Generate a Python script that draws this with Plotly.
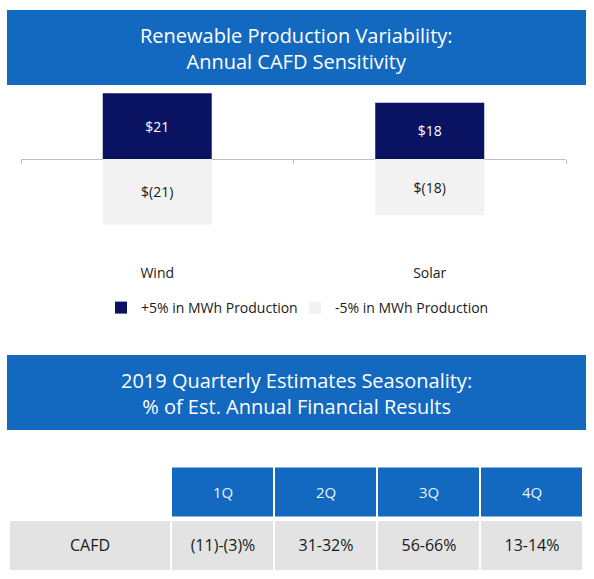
import plotly.graph_objects as go

W, H = 594, 579
FONT = "Segoe UI, Open Sans, sans-serif"

# ---- data ----
categories = ["Wind", "Solar"]
plus_values = [21, 18]
minus_values = [-21, -18]
series_names = ["+5% in MWh Production", "-5% in MWh Production"]

quarters = ["1Q", "2Q", "3Q", "4Q"]
row_label = "CAFD"
cafd_values = ["(11)-(3)%", "31-32%", "56-66%", "13-14%"]

title_top = "Renewable Production Variability:<br>Annual CAFD Sensitivity"
title_bottom = "2019 Quarterly Estimates Seasonality:<br>% of Est. Annual Financial Results"

# ---- styles ----
BLUE = "#1269BF"
NAVY = "#0A1262"
LIGHT = "#F2F2F2"
GRAY = "#E3E3E3"
TABLE_COL_WIDTHS = [162, 103, 103, 103, 103]


def fmt_money(v):
    return f"${v}" if v >= 0 else f"$({abs(v)})"


def px_x(p):
    return p / W


def px_y(p):
    return 1 - p / H


fig = go.Figure()

fig.add_trace(go.Bar(
    x=categories, y=plus_values, name=series_names[0],
    marker=dict(color=NAVY, line=dict(width=0)),
    text=[fmt_money(v) for v in plus_values],
    textposition="inside", insidetextanchor="middle", textangle=0,
    textfont=dict(color="white", size=14, family=FONT),
    width=0.4, hoverinfo="skip",
))
fig.add_trace(go.Bar(
    x=categories, y=minus_values, name=series_names[1],
    marker=dict(color=LIGHT, line=dict(width=0)),
    text=[fmt_money(v) for v in minus_values],
    textposition="inside", insidetextanchor="middle", textangle=0,
    textfont=dict(color="#1a1a1a", size=14, family=FONT),
    width=0.4, hoverinfo="skip",
))

# ---- table (as two single-row heatmaps: centred text, white gaps) ----
col_edges = [0]
for w_ in TABLE_COL_WIDTHS:
    col_edges.append(col_edges[-1] + w_)

header_text = [""] + quarters
data_text = [row_label] + cafd_values

fig.add_trace(go.Heatmap(
    x=col_edges, y=[1, 2],
    z=[[None if t == "" else 1 for t in header_text]],
    text=[header_text], texttemplate="%{text}",
    textfont=dict(size=15, family=FONT, color="#EAF2FC"),
    colorscale=[[0, BLUE], [1, BLUE]], showscale=False,
    xgap=2, ygap=5, hoverinfo="skip", xaxis="x2", yaxis="y2",
))
fig.add_trace(go.Heatmap(
    x=col_edges, y=[0, 1],
    z=[[1 for _ in data_text]],
    text=[data_text], texttemplate="%{text}",
    textfont=dict(size=16, family=FONT, color="#1a1a1a"),
    colorscale=[[0, GRAY], [1, GRAY]], showscale=False,
    xgap=2, ygap=5, hoverinfo="skip", xaxis="x2", yaxis="y2",
))

y_range = [-28, 21.5]
y_dom = [px_y(246.6), px_y(91.7)]
zero_pos = y_dom[0] + (0 - y_range[0]) / (y_range[1] - y_range[0]) * (y_dom[1] - y_dom[0])

fig.update_layout(
    width=W, height=H,
    margin=dict(l=0, r=0, t=0, b=0),
    paper_bgcolor="white", plot_bgcolor="rgba(0,0,0,0)",
    barmode="relative",
    font=dict(family=FONT, color="#1a1a1a"),
    showlegend=True,
    legend=dict(
        orientation="h", x=px_x(101), y=px_y(308), xanchor="left", yanchor="middle",
        font=dict(size=14, family=FONT, color="#1a1a1a"),
        itemwidth=30, traceorder="normal", bgcolor="rgba(0,0,0,0)",
        entrywidth=149,
    ),
    xaxis=dict(
        domain=[px_x(21), px_x(566)], range=[-0.5, 1.5],
        anchor="free", position=zero_pos,
        showline=True, linecolor="#BFBFBF", linewidth=1,
        ticks="outside", tickson="boundaries", ticklen=4, tickcolor="#BFBFBF",
        ticklabelstandoff=101, showgrid=False, zeroline=False,
        tickfont=dict(size=14, family=FONT, color="#1a1a1a"),
        layer="below traces", fixedrange=True,
    ),
    yaxis=dict(
        domain=y_dom, range=y_range, visible=False, showgrid=False, zeroline=False,
        fixedrange=True,
    ),
    xaxis2=dict(
        domain=[px_x(9), px_x(583)], range=[0, col_edges[-1]], visible=False,
        anchor="y2", fixedrange=True,
    ),
    yaxis2=dict(
        domain=[px_y(572.5), px_y(465.5)], range=[0, 2], visible=False,
        anchor="x2", fixedrange=True,
    ),
    shapes=[
        dict(type="rect", xref="paper", yref="paper", x0=px_x(7), x1=px_x(586),
             y0=px_y(85), y1=px_y(10), fillcolor=BLUE, line=dict(width=0), layer="below"),
        dict(type="rect", xref="paper", yref="paper", x0=px_x(7), x1=px_x(586),
             y0=px_y(430), y1=px_y(355), fillcolor=BLUE, line=dict(width=0), layer="below"),
    ],
    annotations=[
        dict(text=title_top, xref="paper", yref="paper", x=px_x(296.5), y=px_y(48.5),
             xanchor="center", yanchor="middle", showarrow=False, align="center",
             font=dict(size=20, color="white", family=FONT)),
        dict(text=title_bottom, xref="paper", yref="paper", x=px_x(296.5), y=px_y(393.5),
             xanchor="center", yanchor="middle", showarrow=False, align="center",
             font=dict(size=20, color="white", family=FONT)),
    ],
)

fig.write_html(
    "out.html",
    config={"displayModeBar": False},
    post_script="document.body.style.margin='0';document.body.style.overflow='hidden';",
)
